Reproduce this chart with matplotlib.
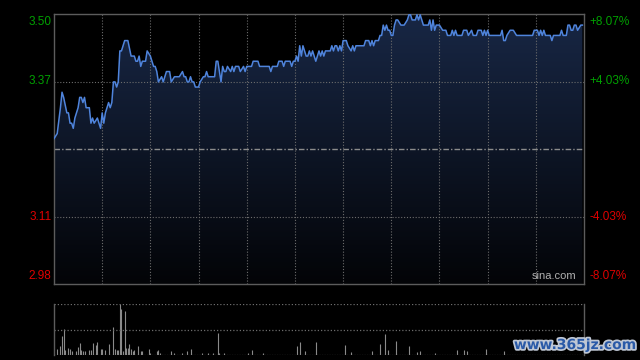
import numpy as np
import matplotlib
matplotlib.use("Agg")
import matplotlib.pyplot as plt
from matplotlib.patches import Polygon
import matplotlib.patheffects as pe

# ---------------- data ----------------
prev_close = 3.24
max_dev = 0.2615
total_minutes = 330

# (minute since open, price)
price_points = [
    (0, 3.26), (2, 3.27), (4, 3.32), (5, 3.35), (6, 3.34), (8, 3.31), (9, 3.31), (10, 3.29),
    (11, 3.29), (12, 3.28), (13, 3.30), (15, 3.32), (16, 3.34), (17, 3.34), (18, 3.33),
    (19, 3.34), (20, 3.32), (22, 3.32), (23, 3.29), (24, 3.30), (25, 3.29), (27, 3.30),
    (29, 3.28), (30, 3.31), (31, 3.29), (32, 3.31), (34, 3.33), (35, 3.32), (36, 3.33),
    (37, 3.37), (38, 3.37), (39, 3.36), (40, 3.37), (41, 3.43), (42, 3.43), (44, 3.45),
    (46, 3.45), (48, 3.42), (50, 3.42), (51, 3.41), (52, 3.41), (53, 3.42), (54, 3.40),
    (55, 3.41), (57, 3.41), (58, 3.43), (60, 3.42), (62, 3.40), (63, 3.40), (64, 3.39),
    (65, 3.37), (67, 3.38), (68, 3.37), (70, 3.39), (72, 3.39), (73, 3.37), (75, 3.38),
    (78, 3.38), (80, 3.39), (81, 3.38), (82, 3.38), (83, 3.37), (84, 3.37), (85, 3.38),
    (86, 3.37), (87, 3.37), (88, 3.36), (90, 3.36), (91, 3.37), (93, 3.38), (94, 3.38),
    (95, 3.39), (96, 3.38), (100, 3.38), (101, 3.41), (102, 3.41), (104, 3.37), (105, 3.40),
    (106, 3.39), (107, 3.39), (108, 3.40), (110, 3.39), (111, 3.40), (112, 3.39), (113, 3.40),
    (115, 3.40), (116, 3.39), (118, 3.40), (119, 3.39), (120, 3.40), (123, 3.40), (124, 3.41),
    (127, 3.41), (128, 3.40), (134, 3.40), (135, 3.39), (136, 3.40), (139, 3.40), (140, 3.41),
    (142, 3.41), (143, 3.40), (144, 3.41), (147, 3.41), (148, 3.40), (149, 3.41), (150, 3.41),
    (151, 3.42), (152, 3.41), (153, 3.44), (154, 3.42), (155, 3.44), (157, 3.42), (158, 3.42),
    (159, 3.43), (160, 3.42), (161, 3.43), (163, 3.41), (165, 3.43), (166, 3.42), (167, 3.43),
    (168, 3.42), (169, 3.43), (172, 3.43), (173, 3.44), (174, 3.43), (175, 3.44), (176, 3.44),
    (177, 3.43), (178, 3.44), (179, 3.43), (180, 3.45), (182, 3.45), (183, 3.44), (185, 3.43),
    (186, 3.44), (187, 3.43), (188, 3.44), (193, 3.44), (194, 3.45), (196, 3.45), (197, 3.44),
    (198, 3.45), (199, 3.44), (200, 3.45), (202, 3.45), (203, 3.46), (204, 3.46), (205, 3.48),
    (206, 3.47), (207, 3.48), (208, 3.47), (209, 3.47), (210, 3.46), (211, 3.46), (212, 3.48),
    (213, 3.49), (214, 3.49), (216, 3.48), (218, 3.48), (220, 3.49), (221, 3.50), (222, 3.50),
    (223, 3.49), (225, 3.49), (226, 3.50), (227, 3.49), (228, 3.50), (229, 3.49), (230, 3.48),
    (233, 3.48), (234, 3.49), (235, 3.47), (236, 3.49), (237, 3.47), (238, 3.48), (240, 3.48),
    (242, 3.47), (244, 3.47), (245, 3.46), (247, 3.46), (248, 3.47), (249, 3.46), (250, 3.47),
    (251, 3.46), (254, 3.46), (255, 3.47), (257, 3.47), (258, 3.46), (260, 3.47), (261, 3.46),
    (263, 3.46), (264, 3.47), (266, 3.47), (267, 3.46), (268, 3.47), (269, 3.46), (270, 3.47),
    (271, 3.46), (278, 3.46), (279, 3.47), (280, 3.45), (281, 3.45), (282, 3.46), (284, 3.47),
    (286, 3.47), (288, 3.46), (298, 3.46), (299, 3.47), (301, 3.47), (302, 3.46), (303, 3.47),
    (304, 3.46), (305, 3.47), (306, 3.46), (309, 3.46), (310, 3.45), (311, 3.46), (315, 3.46),
    (316, 3.47), (317, 3.46), (319, 3.46), (320, 3.48), (321, 3.48), (322, 3.47), (323, 3.47),
    (324, 3.48), (325, 3.48), (326, 3.47), (328, 3.48), (329, 3.48),
]
minutes = [m for m, _ in price_points]
prices = [p for _, p in price_points]

vol_minutes = [2, 4, 5, 6, 7, 9, 10, 11, 14, 15, 16, 17, 18, 19, 22, 23, 24, 26, 27, 29, 30,
               32, 34, 37, 38, 39, 40, 41, 42, 43, 44, 45, 46, 47, 48, 49, 50, 52, 54, 55, 59,
               60, 64, 65, 66, 73, 75, 80, 83, 85, 92, 96, 99, 102, 103, 106, 121, 123, 130,
               151, 153, 156, 163, 181, 185, 198, 203, 206, 208, 213, 221, 226, 228, 237, 251,
               255, 257, 269, 280]
vol_values = [6, 9, 19, 27, 5, 7, 6, 4, 4, 8, 12, 5, 4, 4, 5, 5, 12, 10, 13, 6, 6, 5, 11, 29,
              6, 5, 5, 52, 47, 4, 45, 7, 7, 11, 6, 4, 5, 9, 4, 4, 6, 2, 4, 5, 2, 4, 2, 2, 4, 6,
              2, 2, 2, 22, 2, 2, 2, 5, 2, 9, 13, 4, 13, 10, 3, 4, 11, 21, 5, 14, 9, 3, 4, 2, 5,
              5, 4, 6, 4]

left_labels = ["3.50", "3.37", "", "3.11", "2.98"]
right_labels = ["+8.07%", "+4.03%", "", "-4.03%", "-8.07%"]
label_colors = ["#00a000", "#00a000", "none", "#e00000", "#e00000"]

# ---------------- figure ----------------
W, H = 640, 360
fig = plt.figure(figsize=(6.4, 3.6), dpi=100, facecolor="black")
ax = fig.add_axes([54 / W, 1 - 284 / H, 530 / W, 270 / H])
ax.set_facecolor("black")
ymin, ymax = prev_close - max_dev, prev_close + max_dev
ax.set_xlim(0, total_minutes)
ax.set_ylim(ymin, ymax)

# gradient fill under the line
grad = np.linspace(0, 1, 256).reshape(-1, 1)
top_c = np.array([0x18, 0x27, 0x45]) / 255
bot_c = np.array([0x03, 0x04, 0x07]) / 255
img = top_c[None, None, :] * (1 - grad[:, :, None]) + bot_c[None, None, :] * grad[:, :, None]
im = ax.imshow(img, extent=[0, total_minutes, ymin, ymax], aspect="auto", zorder=1,
               interpolation="bilinear")
xs = [minutes[0]] + minutes + [minutes[-1]]
ys = [ymin] + prices + [ymin]
poly = Polygon(np.column_stack([xs, ys]), closed=True, facecolor="none", edgecolor="none",
               transform=ax.transData)
ax.add_patch(poly)
im.set_clip_path(poly)

# grid
levels = [prev_close + max_dev * k / 2 for k in (2, 1, 0, -1, -2)]
grid_c = "#6c6c6c"
for lv in levels[1:4]:
    if abs(lv - prev_close) < 1e-9:
        ax.axhline(lv, color="#8c8c8c", lw=1.0, ls=(0, (4, 1.5, 1, 1.5)), zorder=2)
    else:
        ax.axhline(lv, color=grid_c, lw=0.8, ls=(0, (1, 1.6)), zorder=2)
for k in range(1, 11):
    ax.axvline(k * 30, color=grid_c, lw=0.8, ls=(0, (1, 1.6)), zorder=2)

ax.plot(minutes, prices, color="#4f84dc", lw=1.1, zorder=3)

for s in ax.spines.values():
    s.set_color("#5c5c5c")
    s.set_linewidth(1.0)
ax.set_xticks([])
ax.set_yticks([])

font = "Liberation Sans"
for lv, ll, rl, c, va in zip(levels, left_labels, right_labels, label_colors,
                             ["top", "center", "center", "center", "bottom"]):
    if not ll:
        continue
    off = {"top": -1.5, "center": 0, "bottom": 1.5}[va]
    ax.annotate(ll, (0, lv), xycoords=("axes fraction", "data"), xytext=(-2, off),
                textcoords="offset points", ha="right", va=va, color=c, fontsize=8.5,
                family=font)
    ax.annotate(rl, (1, lv), xycoords=("axes fraction", "data"), xytext=(4, off),
                textcoords="offset points", ha="left", va=va, color=c, fontsize=8.5,
                family=font)

ax.text(0.985, 0.012, "sina.com", transform=ax.transAxes, ha="right", va="bottom",
        color="#b0b0b0", fontsize=8, family=font, zorder=4)

# volume panel
vax = fig.add_axes([54 / W, 1 - 355 / H, 530 / W, 51 / H])
vax.set_facecolor("black")
vax.set_xlim(0, total_minutes)
vax.set_ylim(0, 52)
vax.vlines(vol_minutes, 0, vol_values, color="#8a8a8a", lw=0.8)
vax.axhline(26, color=grid_c, lw=0.9, ls=(0, (1, 1.6)))
vax.axhline(51.6, color=grid_c, lw=0.9, ls=(0, (1, 1.6)))
vax.axhline(0.4, color="#5c5c5c", lw=0.9, ls=(0, (1, 1)))
for side in ("top", "bottom"):
    vax.spines[side].set_visible(False)
for side in ("left", "right"):
    vax.spines[side].set_color("#5c5c5c")
    vax.spines[side].set_linewidth(1.0)
vax.set_xticks([])
vax.set_yticks([])

fig.text(575 / W, 1 - 345 / H, "www.365jz.com", ha="center", va="center",
         color="#2a5aa8", fontsize=10, family="DejaVu Sans", weight="bold",
         path_effects=[pe.withStroke(linewidth=2.5, foreground="#bfc7d4")])

fig.savefig("out.png", dpi=100, facecolor="black")
